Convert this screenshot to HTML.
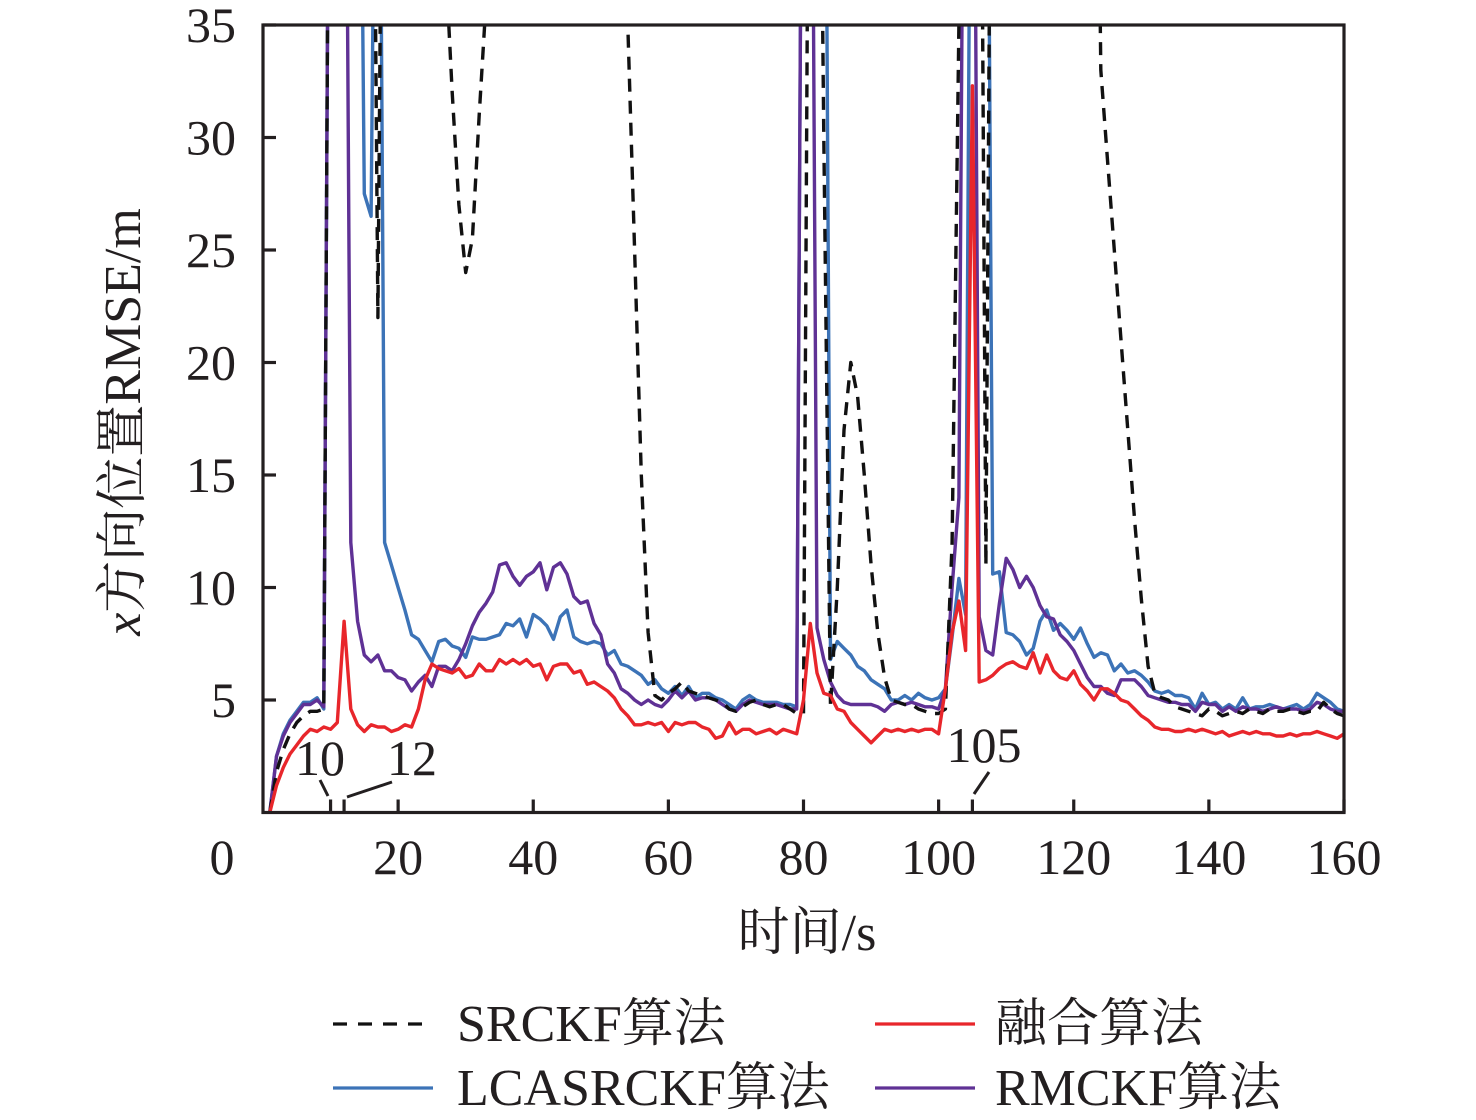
<!DOCTYPE html>
<html><head><meta charset="utf-8">
<style>
html,body{margin:0;padding:0;background:#fff;}
svg{display:block;}
text{font-family:"Liberation Serif","Noto Serif CJK SC",serif;fill:#231f20;}
</style></head>
<body>
<svg id="chart" width="1476" height="1120" viewBox="0 0 1476 1120" xmlns="http://www.w3.org/2000/svg">
<defs><clipPath id="plotclip"><rect x="263" y="25" width="1081" height="787"/></clipPath></defs>
<g id="series" clip-path="url(#plotclip)"></g>
<g id="axes"></g>
<g id="legend"></g>
</svg>
<script>
const xTicks=[20,40,60,80,100,120,140,160];
const xMinorTicks=[10,12,105];
const yTicks=[5,10,15,20,25,30,35];
const srckf=[0,1.8,2.8,3.5,4.0,4.3,4.5,4.5,4.6,60,
60,60,60,60,60,60,22,60,60,60,
60,60,60,60,60,60,38,32,27,24,
25.5,31,36,60,60,60,60,60,60,60,
60,60,60,60,60,60,60,60,60,60,
60,60,60,35,25,15,8,5.2,5.0,5.3,
5.5,5.8,5.4,5.3,5.2,5.1,5.0,4.9,4.6,4.5,
4.7,4.9,5.0,4.8,4.7,4.8,4.8,4.6,4.4,4.4,
60,60,30,4.7,10,17,20,18.5,15,11,
8,6,5,4.9,4.8,4.8,4.6,4.5,4.4,4.4,
4.6,12,35,60,60,60,11,60,60,60,
60,60,60,60,60,60,60,60,60,60,
60,60,60,33,29,25,21,17,13,9.5,
6.5,5.3,5.1,5.0,4.7,4.6,4.5,4.4,4.3,4.6,
4.5,4.3,4.4,4.5,4.4,4.6,4.5,4.4,4.6,4.5,
4.5,4.6,4.5,4.4,4.5,4.5,4.9,4.6,4.4,4.3];
const lcasrckf=[0,2.5,3.5,4.1,4.5,4.9,4.9,5.1,4.6,60,
60,60,60,60,27.5,26.5,60,12,11,10,
9,7.9,7.7,7.2,6.7,7.6,7.7,7.4,7.3,6.9,
7.8,7.7,7.7,7.8,7.9,8.4,8.3,8.6,7.8,8.8,
8.6,8.3,7.7,8.7,9.0,7.8,7.6,7.5,7.6,7.5,
7.0,7.2,6.6,6.5,6.3,6.1,5.7,5.9,5.5,5.3,
5.6,5.2,5.6,5.1,5.3,5.3,5.1,5.0,4.8,4.6,
5.0,5.2,5.0,4.9,4.9,4.9,4.8,4.8,4.7,60,
60,60,60,6.8,7.6,7.3,7.0,6.5,6.3,5.9,
5.7,5.5,5.0,5.0,5.2,5.0,5.3,5.1,5.0,5.1,
5.5,7.8,10.4,8.8,60,60,60,10.6,10.7,8.0,
7.9,7.6,7.0,7.3,8.5,9.0,8.1,8.4,8.1,7.7,
8.2,7.5,6.9,7.1,7.0,6.3,6.6,6.2,6.3,6.1,
5.8,5.4,5.3,5.4,5.2,5.2,5.1,4.6,5.3,4.8,
4.9,4.6,4.8,4.6,5.1,4.6,4.7,4.7,4.8,4.7,
4.6,4.7,4.8,4.6,4.8,5.3,5.1,4.9,4.6,4.5];
const rmckf=[0,2.5,3.4,4.0,4.4,4.8,4.8,5.0,4.7,60,
60,60,12,8.5,7.0,6.7,7.0,6.3,6.3,6.0,
5.9,5.4,5.8,6.1,5.6,6.5,6.5,6.3,6.8,7.5,
8.3,8.9,9.3,9.8,11.0,11.1,10.5,10.1,10.5,10.7,
11.1,9.9,10.9,11.1,10.6,9.6,9.3,9.4,8.4,7.9,
6.6,6.2,5.5,5.3,5.0,4.8,5.0,4.8,4.7,5.0,
5.4,5.1,5.4,5.0,5.1,5.1,5.0,4.8,4.6,4.5,
4.8,5.0,4.9,4.8,4.8,4.8,4.7,4.6,4.6,60,
60,8.2,6.8,5.8,5.2,4.9,4.8,4.8,4.8,4.8,
4.7,4.5,4.8,4.9,4.8,4.9,4.8,4.7,4.7,4.6,
5.5,10,14,60,60,8.7,7.2,7.0,9.3,11.3,
10.8,10.0,10.5,10.0,9.2,8.7,8.6,7.9,7.6,7.2,
6.6,6.0,5.6,5.6,5.3,5.2,5.9,5.9,5.9,5.6,
5.2,5.1,5.0,4.9,4.9,4.8,4.8,4.5,4.9,4.8,
4.8,4.5,4.7,4.5,4.7,4.6,4.6,4.5,4.6,4.7,
4.6,4.6,4.6,4.5,4.6,4.9,4.8,4.6,4.5,4.5];
const fusion=[0,1.2,2.0,2.6,3.0,3.4,3.7,3.6,3.8,3.7,
4.0,8.5,4.6,3.9,3.6,3.9,3.8,3.8,3.6,3.7,
3.9,3.8,4.6,5.9,6.6,6.4,6.3,6.2,6.4,6.0,
6.1,6.6,6.3,6.3,6.8,6.6,6.8,6.6,6.8,6.5,
6.6,5.9,6.5,6.6,6.6,6.2,6.3,5.7,5.8,5.6,
5.4,5.1,4.6,4.3,3.9,3.9,4.0,3.9,4.0,3.6,
4.0,3.9,4.0,4.0,3.8,3.7,3.3,3.4,4.0,3.5,
3.7,3.7,3.5,3.6,3.7,3.5,3.7,3.6,3.5,5.0,
8.4,6.2,5.3,5.2,4.6,4.5,4.0,3.7,3.4,3.1,
3.4,3.7,3.6,3.7,3.6,3.7,3.6,3.7,3.7,3.5,
5.5,8.0,9.4,7.2,32.3,5.8,5.9,6.1,6.4,6.6,
6.7,6.5,6.4,7.1,6.2,7.0,6.3,6.0,5.9,6.3,
5.7,5.4,5.0,5.5,5.5,5.3,5.0,4.9,4.6,4.3,
4.1,3.8,3.7,3.7,3.6,3.6,3.7,3.6,3.7,3.6,
3.5,3.6,3.4,3.5,3.6,3.5,3.6,3.5,3.5,3.4,
3.4,3.5,3.4,3.5,3.5,3.6,3.5,3.4,3.3,3.5];

const NS='http://www.w3.org/2000/svg';
const X0=263,X1=1344,Y0=812.5,Y1=25;
function xs(t){return X0+(t/160)*(X1-X0);}
function ys(v){return Y0-(v/35)*(Y0-Y1);}
function mk(tag,attrs,parent){const e=document.createElementNS(NS,tag);for(const k in attrs)e.setAttribute(k,attrs[k]);parent.appendChild(e);return e;}
const gS=document.getElementById('series'),gA=document.getElementById('axes');
function pathFor(arr){return arr.map((v,i)=>(i?'L':'M')+xs(i+1).toFixed(1)+' '+ys(v).toFixed(1)).join(' ');}
const seriesDefs=[
 {d:srckf,c:'#111',dash:'13 9',n:'srckf-line'},
 {d:lcasrckf,c:'#3c73b7',dash:'',n:'lcasrckf-line'},
 {d:rmckf,c:'#5f3195',dash:'',n:'rmckf-line'},
 {d:fusion,c:'#e8262b',dash:'',n:'fusion-line'}];
const order=[1,2,0,3];
order.forEach(i=>{const s=seriesDefs[i];
 const p=mk('path',{d:pathFor(s.d),fill:'none',stroke:s.c,'stroke-width':3.4,'stroke-linejoin':'round'},gS);
 if(s.dash)p.setAttribute('stroke-dasharray',s.dash);
 
 
});
const fr=mk('rect',{x:X0,y:Y1,width:X1-X0,height:Y0-Y1,fill:'none',stroke:'#231f20','stroke-width':3.2},gA);


xTicks.forEach(t=>{const l=mk('line',{x1:xs(t),x2:xs(t),y1:Y0,y2:Y0-13,stroke:'#231f20','stroke-width':3.2},gA);
 
 
 const tx=mk('text',{x:xs(t),y:874,'font-size':50,'text-anchor':'middle'},gA);tx.textContent=t;
 
 
});
xMinorTicks.forEach(t=>{const l=mk('line',{x1:xs(t),x2:xs(t),y1:Y0,y2:Y0-13,stroke:'#231f20','stroke-width':3.2},gA);
 
 
});
const z=mk('text',{x:222,y:874,'font-size':50,'text-anchor':'middle'},gA);z.textContent='0';


yTicks.forEach(v=>{const l=mk('line',{x1:X0,x2:X0+13,y1:ys(v),y2:ys(v),stroke:'#231f20','stroke-width':3.2},gA);
 
 
 const tx=mk('text',{x:236,y:ys(v)+17,'font-size':50,'text-anchor':'end'},gA);tx.textContent=v;
 
 
});
</script>
<svg style="position:absolute;left:0;top:0" width="1476" height="1120">
<text x="320" y="775" font-size="50" text-anchor="middle">10</text>
<line x1="320" y1="780" x2="328" y2="796" stroke="#231f20" stroke-width="3"/>
<text x="412" y="775" font-size="50" text-anchor="middle">12</text>
<line x1="347" y1="797" x2="392" y2="782" stroke="#231f20" stroke-width="3"/>
<text x="984" y="762" font-size="50" text-anchor="middle">105</text>
<line x1="989" y1="772" x2="974" y2="794" stroke="#231f20" stroke-width="3"/>
<text x="807" y="950" font-size="52" text-anchor="middle">时间/s</text>
<text transform="translate(140,422) rotate(-90)" font-size="52" text-anchor="middle"><tspan font-style="italic">x</tspan>方向位置RMSE/m</text>
<g>
<line x1="333" y1="1024" x2="433" y2="1024" stroke="#111" stroke-width="3.2" stroke-dasharray="14 11"/>
<text x="457" y="1041" font-size="52">SRCKF算法</text></g>
<g>
<line x1="875" y1="1024" x2="975" y2="1024" stroke="#e8262b" stroke-width="3.2"/>
<text x="995" y="1041" font-size="52">融合算法</text></g>
<g>
<line x1="333" y1="1088" x2="433" y2="1088" stroke="#3c73b7" stroke-width="3.2"/>
<text x="457" y="1105" font-size="52">LCASRCKF算法</text></g>
<g>
<line x1="875" y1="1088" x2="975" y2="1088" stroke="#5f3195" stroke-width="3.2"/>
<text x="995" y="1105" font-size="52">RMCKF算法</text></g>
</svg>
</body></html>
